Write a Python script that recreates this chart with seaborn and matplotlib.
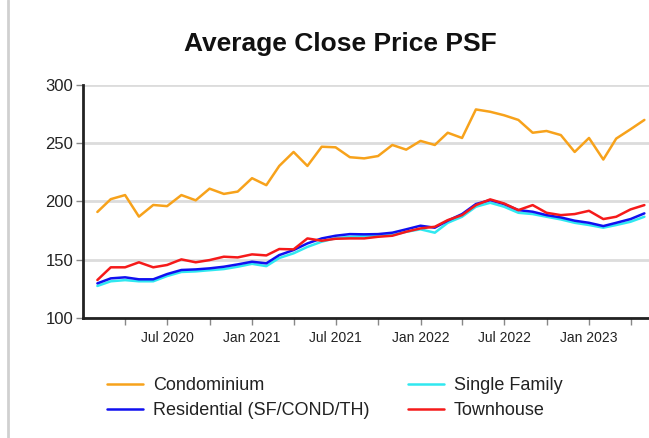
import pandas as pd
import matplotlib.pyplot as plt
from matplotlib.lines import Line2D
import seaborn as sns

# Data (monthly, Feb 2020 - May 2023)
months = pd.date_range("2020-02-01", periods=40, freq="MS")

condominium = [191, 202, 205.5, 187, 197, 196, 205.5, 201, 211, 206.5, 208.5,
               220, 214, 230.5, 242.5, 230.5, 247, 246.5, 238, 237, 239, 248.5, 244.5,
               252, 248.5, 259, 254.5, 279, 277, 274, 270, 259, 260.5, 257, 242.5,
               254.5, 236, 254, 262, 270]
residential = [129.7, 134, 134.9, 133.2, 133.2, 137.7, 141.2, 141.7, 142.6, 144, 146,
               148.3, 146.9, 154, 158.3, 164, 168.3, 170.6, 172, 171.8, 172, 173.2, 176.1,
               179.2, 177.5, 183.5, 189.2, 197.8, 201.2, 197.8, 192.6, 191.2, 188.3, 186.3, 183.5,
               181.7, 178.9, 181.7, 184.9, 189.8]
single_family = [127.5, 131.5, 132.5, 131.5, 131.5, 136, 139.5, 140, 141, 142, 144,
                 146.5, 144.5, 151.5, 155.5, 161, 165.5, 168.5, 169.7, 170.3, 170.6, 171.2, 174,
                 176.1, 173.2, 181.7, 186.9, 195.5, 198.9, 195.5, 190.3, 189.2, 186.9, 184.6, 181.7,
                 179.8, 177.5, 179.8, 182.6, 186.9]
townhouse = [132.6, 143.5, 143.5, 147.8, 143.5, 145.5, 150.3, 147.8, 149.7, 152.6, 152,
             154.6, 153.7, 159.2, 158.9, 168.3, 166.3, 168, 168.3, 168.3, 169.7, 170.6, 174,
             176.9, 178.3, 184, 188.3, 196.9, 201.8, 198.3, 192.6, 196.9, 190.3, 188.3, 189.2,
             192, 184.9, 186.9, 193.2, 196.9]

# tick dates: labelled every 6 months, unlabelled in between
label_ticks = pd.date_range("2020-07-01", "2023-01-01", freq="6MS")
mid_ticks = pd.date_range("2020-04-01", "2023-04-01", freq="6MS")
y_ticks = [100, 150, 200, 250, 300]

series = {
    "Single Family": single_family,
    "Residential (SF/COND/TH)": residential,
    "Townhouse": townhouse,
    "Condominium": condominium,
}
colors = {
    "Condominium": "#F7A21B",
    "Residential (SF/COND/TH)": "#1010F0",
    "Single Family": "#30E8F0",
    "Townhouse": "#F51A1A",
}
legend_order = ["Condominium", "Residential (SF/COND/TH)", "Single Family", "Townhouse"]

df = pd.concat(
    [pd.DataFrame({"Month": months, "Price": vals, "Type": name}) for name, vals in series.items()],
    ignore_index=True,
)

sns.set_theme(style="white")
plt.rcParams['font.family'] = ['Liberation Sans', 'DejaVu Sans']

fig = plt.figure(figsize=(6.49, 4.38), dpi=100)
ax = fig.add_axes([0.128, 0.274, 0.872, 0.532])

sns.lineplot(data=df, x="Month", y="Price", hue="Type", hue_order=list(series.keys()),
             palette=colors, linewidth=1.8, ax=ax, legend=False)

# Axes styling
ax.set_ylim(100, 300)
ax.set_yticks(y_ticks)
ax.set_xlim(pd.Timestamp("2020-01-01"), pd.Timestamp("2023-05-11"))
ax.set_xticks(label_ticks)
ax.set_xticklabels([d.strftime("%b %Y") for d in label_ticks])
ax.set_xticks(mid_ticks, minor=True)
ax.set_xlabel("")
ax.set_ylabel("")
ax.yaxis.grid(True, color="#DCDCDC", linewidth=2)
ax.set_axisbelow(True)
for s in ["top", "right"]:
    ax.spines[s].set_visible(False)
for s in ["left", "bottom"]:
    ax.spines[s].set_color("#222222")
    ax.spines[s].set_linewidth(2)
ax.tick_params(axis="x", which="both", bottom=True, length=5, width=1, color="#888888",
               labelsize=10, labelcolor="#222222", pad=4.5)
ax.tick_params(axis="y", left=True, length=5, width=1, color="#888888",
               labelsize=12, labelcolor="#222222", pad=2)

fig.text(0.524, 0.9, "Average Close Price PSF", ha="center", va="center",
         fontsize=19, fontweight="bold", color="#111111")

handles = [Line2D([0], [0], color=colors[n], linewidth=1.8) for n in legend_order]
fig.legend(handles, legend_order, loc="center", bbox_to_anchor=(0.516, 0.091), ncol=2,
           frameon=False, fontsize=13, handlelength=2.0, handletextpad=0.55,
           columnspacing=2.1, labelspacing=0.43, labelcolor="#222222")

# screenshot border on the left
fig.add_artist(Line2D([0.013, 0.013], [0, 1], color="#D0D0D0", linewidth=2))

fig.savefig("out.png", dpi=100)
